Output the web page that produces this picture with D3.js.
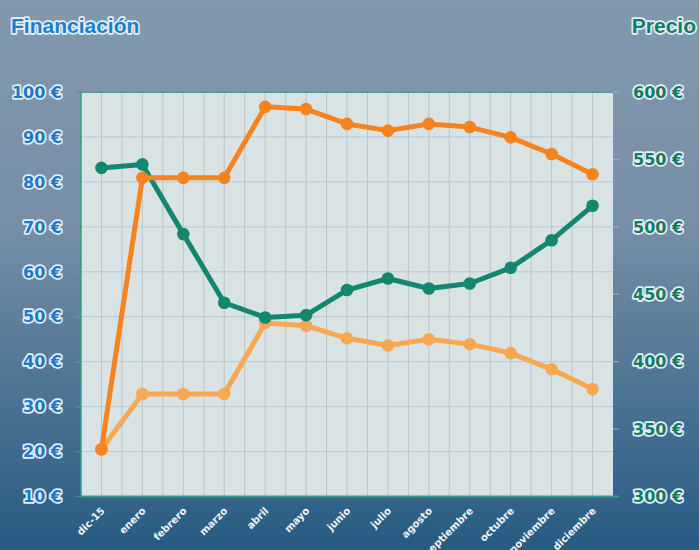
<!DOCTYPE html>
<html>
<head>
<meta charset="utf-8">
<script src="https://cdn.jsdelivr.net/npm/d3@7"></script>
<style>
  html, body { margin: 0; padding: 0; }
  svg { display: block; font-family: "Liberation Sans", Arial, sans-serif; }
  .halo { paint-order: stroke; stroke: #e6eef6; stroke-width: 3.4px; stroke-linejoin: round; }
  .tick { font-family: "DejaVu Sans", sans-serif; }
</style>
</head>
<body>
<div id="chart"></div>
<script>
// months on the x axis
const months = ["dic-15", "enero", "febrero", "marzo", "abril", "mayo", "junio",
  "julio", "agosto", "septiembre", "octubre", "noviembre", "diciembre"];

// Financiación (left axis, €)
const finDark = [20.5, 80.9, 80.9, 80.9, 96.7, 96.2, 92.9, 91.4, 92.9, 92.2, 89.9, 86.2, 81.7];
const finLight = [20.5, 32.8, 32.8, 32.8, 48.6, 48.0, 45.2, 43.6, 45.0, 43.9, 41.9, 38.3, 33.9];

// Precio (right axis, €)
const precio = [543.7, 546.3, 494.6, 443.7, 432.8, 434.5, 453.1, 461.7, 454.3, 458.0, 469.6, 490.1, 515.6];

const leftTicks = [10, 20, 30, 40, 50, 60, 70, 80, 90, 100];
const rightTicks = [300, 350, 400, 450, 500, 550, 600];

const W = 699, H = 550;
const margin = { top: 92, right: 86, bottom: 53.5, left: 81 };
const innerW = W - margin.left - margin.right;
const innerH = H - margin.top - margin.bottom;

const svg = d3.select("#chart").append("svg").attr("width", W).attr("height", H);

// background gradient
const defs = svg.append("defs");
const bg = defs.append("linearGradient").attr("id", "bgGrad")
  .attr("x1", 0).attr("y1", 0).attr("x2", 0).attr("y2", 1);
bg.append("stop").attr("offset", "0%").attr("stop-color", "#8298ad");
bg.append("stop").attr("offset", "40%").attr("stop-color", "#778fa7");
bg.append("stop").attr("offset", "100%").attr("stop-color", "#265b82");
svg.append("rect").attr("width", W).attr("height", H).attr("fill", "url(#bgGrad)");

const chart = svg.append("g").attr("transform", `translate(${margin.left},${margin.top})`);

const x = d3.scaleBand().domain(months).range([0, innerW]);
const cx = d => x(d) + x.bandwidth() / 2;
const yL = d3.scaleLinear().domain([10, 100]).range([innerH, 0]);
const yR = d3.scaleLinear().domain([300, 600]).range([innerH, 0]);

// plot area
chart.append("rect").attr("width", innerW).attr("height", innerH).attr("fill", "#d9e3e3");

// vertical grid: band edges and centres
const vLines = [];
months.forEach(m => { vLines.push(x(m)); vLines.push(cx(m)); });
chart.append("g").selectAll("line").data(vLines.filter(v => v > 0)).enter().append("line")
  .attr("x1", d => d).attr("x2", d => d).attr("y1", 0).attr("y2", innerH)
  .attr("stroke", "#bcc3c4").attr("stroke-width", 1);

// horizontal grid
chart.append("g").selectAll("line").data(leftTicks).enter().append("line")
  .attr("x1", -6).attr("x2", innerW).attr("y1", d => yL(d)).attr("y2", d => yL(d))
  .attr("stroke", "#b3c8da").attr("stroke-width", 1);
chart.append("g").selectAll("line").data(leftTicks).enter().append("line")
  .attr("x1", -6).attr("x2", 0).attr("y1", d => yL(d)).attr("y2", d => yL(d))
  .attr("stroke", "#3f8f8c").attr("stroke-width", 1);
// right ticks
chart.append("g").selectAll("line").data(rightTicks).enter().append("line")
  .attr("x1", innerW).attr("x2", innerW + 6).attr("y1", d => yR(d)).attr("y2", d => yR(d))
  .attr("stroke", "#9fb2c4").attr("stroke-width", 1);

// frame
chart.append("line").attr("x1", -6).attr("x2", innerW).attr("y1", 0).attr("y2", 0)
  .attr("stroke", "#5a9a9c").attr("stroke-width", 2);
chart.append("line").attr("x1", 0).attr("x2", 0).attr("y1", 0).attr("y2", innerH)
  .attr("stroke", "#3f9a8e").attr("stroke-width", 1.5);
chart.append("line").attr("x1", 0).attr("x2", innerW + 6).attr("y1", innerH).attr("y2", innerH)
  .attr("stroke", "#3f9a8e").attr("stroke-width", 2);

// series
function drawSeries(values, yScale, color) {
  const g = chart.append("g");
  const line = d3.line().x((d, i) => cx(months[i])).y(d => yScale(d));
  g.append("path").datum(values).attr("d", line)
    .attr("fill", "none").attr("stroke", color).attr("stroke-width", 5)
    .attr("stroke-linejoin", "round").attr("stroke-linecap", "round");
  g.selectAll("circle").data(values).enter().append("circle")
    .attr("cx", (d, i) => cx(months[i])).attr("cy", d => yScale(d))
    .attr("r", 6.3).attr("fill", color);
}
drawSeries(finLight, yL, "#f6a852");
drawSeries(precio, yR, "#12866f");
drawSeries(finDark, yL, "#f5831f");

// left axis labels
svg.append("g").selectAll("text").data(leftTicks).enter().append("text")
  .attr("class", "halo tick")
  .attr("x", 62).attr("y", d => margin.top + yL(d)).attr("dy", "0.36em")
  .attr("text-anchor", "end").attr("font-size", 16).attr("font-weight", "bold")
  .attr("fill", "#1f78c6").text(d => `${d} €`);

// right axis labels
svg.append("g").selectAll("text").data(rightTicks).enter().append("text")
  .attr("class", "halo tick")
  .attr("x", 633).attr("y", d => margin.top + yR(d)).attr("dy", "0.36em")
  .attr("text-anchor", "start").attr("font-size", 16).attr("font-weight", "bold")
  .attr("fill", "#147a62").text(d => `${d} €`);

// x labels
svg.append("g").selectAll("text").data(months).enter().append("text")
  .attr("class", "tick")
  .attr("transform", d => `translate(${margin.left + cx(d) + 4},${margin.top + innerH + 15}) rotate(-45)`)
  .attr("text-anchor", "end").attr("font-size", 10).attr("font-weight", "bold")
  .attr("fill", "#f2f5f8").text(d => d);

// titles
svg.append("text").attr("class", "halo")
  .attr("x", 11).attr("y", 33).attr("font-size", 21).attr("font-weight", "bold")
  .attr("fill", "#1b7fcb").text("Financiación");
svg.append("text").attr("class", "halo")
  .attr("x", 696).attr("y", 33).attr("text-anchor", "end").attr("font-size", 21).attr("font-weight", "bold")
  .attr("fill", "#147d66").text("Precio");
</script>
</body>
</html>
